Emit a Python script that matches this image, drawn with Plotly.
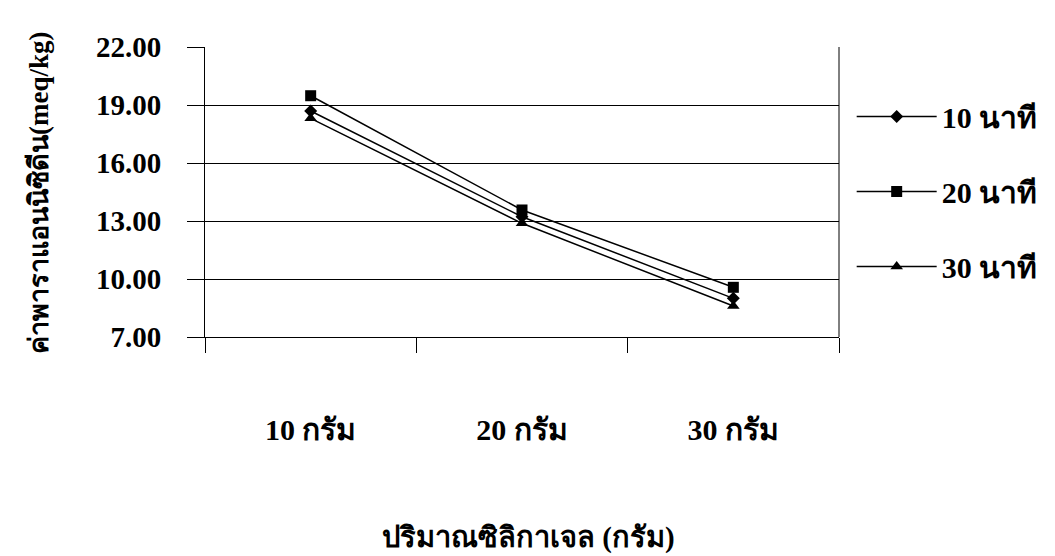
import plotly.graph_objects as go

categories = ["10 กรัม", "20 กรัม", "30 กรัม"]
series_names = ["10 นาที", "20 นาที", "30 นาที"]
v10 = [18.69, 13.22, 9.00]
v20 = [19.48, 13.57, 9.57]
v30 = [18.31, 12.88, 8.60]
y_ticks = [7, 10, 13, 16, 19, 22]
y_tick_text = ["7.00", "10.00", "13.00", "16.00", "19.00", "22.00"]

FONT = "Liberation Serif, Times New Roman, serif"
symbols = ["diamond", "square", "triangle-up"]
sizes = [10, 11, 11]

fig = go.Figure()
for i, (name, vals) in enumerate(zip(series_names, [v10, v20, v30])):
    fig.add_trace(go.Scatter(
        x=categories, y=vals, name=name, mode="lines+markers",
        line=dict(color="black", width=1.5),
        marker=dict(symbol=symbols[i], size=sizes[i], color="black"),
        legendgroup=f"g{i}",
    ))

fig.update_layout(
    width=1055, height=556,
    margin=dict(l=205, r=212, t=47, b=219),
    paper_bgcolor="white", plot_bgcolor="white",
    font=dict(family=FONT, color="black", size=20),
    showlegend=True,
    legend=dict(x=1.02, y=0.85, xanchor="left", yanchor="top",
                font=dict(family=FONT, size=30, color="black", weight="bold"),
                tracegroupgap=33, itemwidth=80, bgcolor="rgba(0,0,0,0)"),
    xaxis=dict(type="category", showgrid=False, showline=True, linecolor="black",
               linewidth=1, mirror=False, ticks="outside", tickson="boundaries",
               ticklen=15, tickcolor="black", ticklabelstandoff=66,
               tickfont=dict(family=FONT, size=30, color="black", weight="bold"),
               range=[-0.5, 2.5]),
    yaxis=dict(range=[7, 22], tickvals=y_ticks, ticktext=y_tick_text,
               showgrid=True, gridcolor="black", gridwidth=1,
               showline=True, linecolor="black", linewidth=1,
               ticks="outside", ticklen=17, tickcolor="black", ticklabelstandoff=20,
               tickfont=dict(family=FONT, size=29, color="black", weight="bold"),
               zeroline=False),
)
fig.add_shape(type="line", xref="paper", yref="paper", x0=1, x1=1, y0=0, y1=1,
              line=dict(color="black", width=1))

fig.add_annotation(text="ค่าพาราแอนนิซิดีน(meq/kg)", textangle=-90,
                   xref="paper", yref="paper", x=-0.262, y=0.5,
                   xanchor="center", yanchor="middle", showarrow=False,
                   font=dict(family=FONT, size=27, color="black", weight="bold"))
fig.add_annotation(text="ปริมาณซิลิกาเจล (กรัม)",
                   xref="paper", yref="paper", x=0.51, y=-0.69,
                   xanchor="center", yanchor="middle", showarrow=False,
                   font=dict(family=FONT, size=29, color="black", weight="bold"))

fig.write_html("out.html")
